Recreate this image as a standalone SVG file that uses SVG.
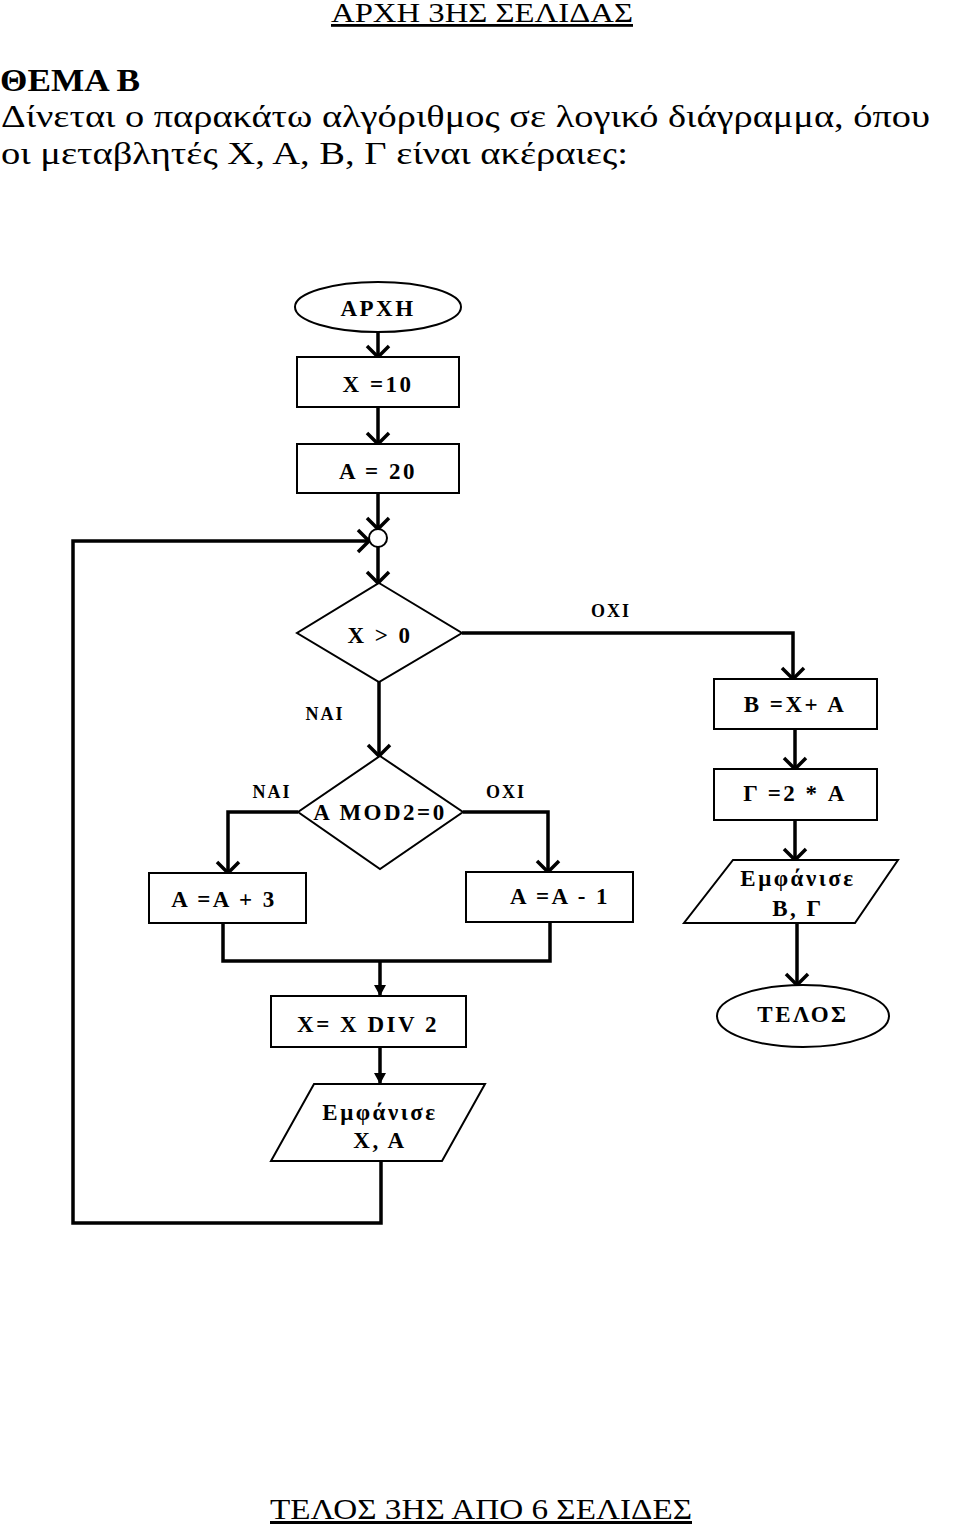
<svg xmlns="http://www.w3.org/2000/svg" width="960" height="1526" viewBox="0 0 960 1526">
<style>
.hd{font-family:"Liberation Serif","DejaVu Serif",serif;fill:#000}
.nt{font-family:"Liberation Serif","DejaVu Serif",serif;font-weight:bold;font-size:23px;letter-spacing:2.5px;fill:#000;text-anchor:middle}
.lb{font-family:"Liberation Serif","DejaVu Serif",serif;font-weight:bold;font-size:18px;letter-spacing:2px;fill:#000;text-anchor:middle}
.sh{fill:#fff;stroke:#000;stroke-width:2}
.cn{fill:none;stroke:#000;stroke-width:3.5}
</style>
<defs>
<marker id="chev" markerUnits="userSpaceOnUse" markerWidth="30" markerHeight="30" viewBox="-15 -15 30 30" refX="0" refY="0" orient="auto">
<path d="M-11,-11 L0,0 L-11,11" fill="none" stroke="#000" stroke-width="3.5"/>
</marker>
<marker id="tri" markerUnits="userSpaceOnUse" markerWidth="30" markerHeight="30" viewBox="-15 -15 30 30" refX="0" refY="0" orient="auto">
<path d="M-11,-6 L0,0 L-11,6 Z" fill="#000"/>
</marker>
</defs>
<g id="header">
<text class="hd" x="331" y="22" font-size="28" textLength="302" lengthAdjust="spacingAndGlyphs" text-decoration="underline">ΑΡΧΗ 3ΗΣ ΣΕΛΙΔΑΣ</text>
<text class="hd" x="0" y="91" font-size="32" font-weight="bold" textLength="140" lengthAdjust="spacingAndGlyphs">ΘΕΜΑ Β</text>
<text class="hd" x="1" y="127" font-size="32" textLength="929" lengthAdjust="spacingAndGlyphs">Δίνεται ο παρακάτω αλγόριθμος σε λογικό διάγραμμα, όπου</text>
<text class="hd" x="1" y="164" font-size="32" textLength="627" lengthAdjust="spacingAndGlyphs">οι μεταβλητές X, A, B, Γ είναι ακέραιες:</text>
</g>
<g id="connectors">
<line class="cn" x1="378" y1="332" x2="378" y2="357" marker-end="url(#chev)"/>
<line class="cn" x1="378" y1="407" x2="378" y2="444" marker-end="url(#chev)"/>
<line class="cn" x1="378" y1="493" x2="378" y2="529" marker-end="url(#chev)"/>
<line class="cn" x1="378" y1="547" x2="378" y2="583" marker-end="url(#chev)"/>
<polyline class="cn" points="462,633 793,633 793,679" marker-end="url(#chev)"/>
<line class="cn" x1="379" y1="682" x2="379" y2="756" marker-end="url(#chev)"/>
<polyline class="cn" points="298,812 228,812 228,873" marker-end="url(#chev)"/>
<polyline class="cn" points="463,812 548,812 548,872" marker-end="url(#chev)"/>
<polyline class="cn" points="223,923 223,961 550,961 550,922"/>
<line class="cn" x1="380" y1="961" x2="380" y2="996" marker-end="url(#tri)"/>
<line class="cn" x1="380" y1="1047" x2="380" y2="1084" marker-end="url(#tri)"/>
<polyline class="cn" points="381,1161 381,1223 73,1223 73,541 369,541" marker-end="url(#chev)"/>
<line class="cn" x1="795" y1="729" x2="795" y2="769" marker-end="url(#chev)"/>
<line class="cn" x1="795" y1="820" x2="795" y2="860" marker-end="url(#chev)"/>
<line class="cn" x1="797" y1="923" x2="797" y2="985" marker-end="url(#chev)"/>
<text class="lb" x="611" y="617">ΟΧΙ</text>
<text class="lb" x="325" y="720">ΝΑΙ</text>
<text class="lb" x="272" y="798">ΝΑΙ</text>
<text class="lb" x="506" y="798">ΟΧΙ</text>
</g>
<g id="start">
<ellipse class="sh" cx="378" cy="307" rx="83" ry="25"/>
<text class="nt" x="378" y="316">ΑΡΧΗ</text>
</g>
<g id="x10">
<rect class="sh" x="297" y="357" width="162" height="50"/>
<text class="nt" x="378" y="392">X =10</text>
</g>
<g id="a20">
<rect class="sh" x="297" y="444" width="162" height="49"/>
<text class="nt" x="378" y="479">A = 20</text>
</g>
<g id="join">
<circle class="sh" cx="378" cy="538" r="9"/>
</g>
<g id="cond1">
<polygon class="sh" points="379,583 462,633 379,682 297,633"/>
<text class="nt" x="380" y="643">X &gt; 0</text>
</g>
<g id="bxa">
<rect class="sh" x="714" y="679" width="163" height="50"/>
<text class="nt" x="795" y="712">B =X+ A</text>
</g>
<g id="g2a">
<rect class="sh" x="714" y="769" width="163" height="51"/>
<text class="nt" x="795" y="801">Γ =2 * A</text>
</g>
<g id="showbg">
<polygon class="sh" points="733,860 898,860 855,923 684,923"/>
<text class="nt" x="798" y="886">Εμφάνισε</text>
<text class="nt" x="798" y="916">B, Γ</text>
</g>
<g id="end">
<ellipse class="sh" cx="803" cy="1016" rx="86" ry="31"/>
<text class="nt" x="803" y="1022">ΤΕΛΟΣ</text>
</g>
<g id="cond2">
<polygon class="sh" points="380,756 463,812 380,869 298,812"/>
<text class="nt" x="380" y="820">A MOD2=0</text>
</g>
<g id="aplus3">
<rect class="sh" x="149" y="873" width="157" height="50"/>
<text class="nt" x="224" y="907">A =A + 3</text>
</g>
<g id="aminus1">
<rect class="sh" x="466" y="872" width="167" height="50"/>
<text class="nt" x="560" y="904">A =A - 1</text>
</g>
<g id="xdiv2">
<rect class="sh" x="271" y="996" width="195" height="51"/>
<text class="nt" x="368" y="1032">X= X DIV 2</text>
</g>
<g id="showxa">
<polygon class="sh" points="314,1084 485,1084 442,1161 271,1161"/>
<text class="nt" x="380" y="1120">Εμφάνισε</text>
<text class="nt" x="380" y="1148">X, A</text>
</g>
<g id="footer">
<text class="hd" x="270" y="1519" font-size="30" textLength="422" lengthAdjust="spacingAndGlyphs" text-decoration="underline">ΤΕΛΟΣ 3ΗΣ ΑΠΟ 6 ΣΕΛΙΔΕΣ</text>
</g>
</svg>
